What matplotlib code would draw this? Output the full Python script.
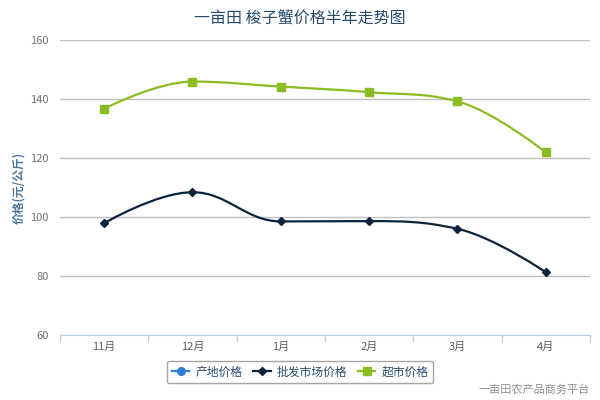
import numpy as np
import matplotlib.pyplot as plt
from matplotlib.path import Path
from matplotlib.patches import PathPatch
from matplotlib.lines import Line2D

plt.rcParams['font.family'] = ['Noto Sans CJK SC', 'DejaVu Sans']

months = ["11月", "12月", "1月", "2月", "3月", "4月"]
origin_price = []  # 产地价格: no data
wholesale_price = [97.9, 108.4, 98.5, 98.6, 96.0, 81.3]
market_price = [136.7, 145.9, 144.2, 142.3, 139.2, 121.9]


def spline_path(xs, ys, smoothing=1.5):
    # highcharts-like spline through the points
    n = len(xs)
    left = [None] * n
    right = [None] * n
    for i in range(1, n - 1):
        x, y = xs[i], ys[i]
        lx, ly = xs[i - 1], ys[i - 1]
        nx, ny = xs[i + 1], ys[i + 1]
        d = smoothing + 1
        lcx = (smoothing * x + lx) / d
        lcy = (smoothing * y + ly) / d
        rcx = (smoothing * x + nx) / d
        rcy = (smoothing * y + ny) / d
        corr = (rcy - lcy) * (rcx - x) / (rcx - lcx) + y - rcy
        lcy += corr
        rcy += corr
        if lcy > ly and lcy > y:
            lcy = max(ly, y)
            rcy = 2 * y - lcy
        elif lcy < ly and lcy < y:
            lcy = min(ly, y)
            rcy = 2 * y - lcy
        if rcy > ny and rcy > y:
            rcy = max(ny, y)
            lcy = 2 * y - rcy
        elif rcy < ny and rcy < y:
            rcy = min(ny, y)
            lcy = 2 * y - rcy
        left[i] = (lcx, lcy)
        right[i] = (rcx, rcy)
    verts = [(xs[0], ys[0])]
    codes = [Path.MOVETO]
    for i in range(1, n):
        c1 = right[i - 1] if right[i - 1] else (xs[i - 1], ys[i - 1])
        c2 = left[i] if left[i] else (xs[i], ys[i])
        verts += [c1, c2, (xs[i], ys[i])]
        codes += [Path.CURVE4] * 3
    return Path(verts, codes)


fig = plt.figure(figsize=(6, 4), dpi=100)
ax = fig.add_axes([0.1, 0.1625, 0.8833, 0.7375])

x = np.arange(len(months))
series = [
    (wholesale_price, "#0d233a", "D", 4.2, "批发市场价格"),
    (market_price, "#8bbc21", "s", 6, "超市价格"),
]
for vals, col, mk, ms, name in series:
    p = spline_path(list(x), vals)
    ax.add_patch(PathPatch(p, facecolor="none", edgecolor=col, lw=1.6, zorder=3))
    ax.plot(x, vals, ls="none", marker=mk, ms=ms, color=col, zorder=4)

ax.set_xlim(-0.5, len(months) - 0.5)
ax.set_ylim(60, 160)
ax.set_yticks([60, 80, 100, 120, 140, 160])
ax.yaxis.grid(True, color="#c0c0c0", lw=1)
ax.set_axisbelow(True)
for s in ["top", "right", "left"]:
    ax.spines[s].set_visible(False)
ax.spines["bottom"].set_color("#c0d0e0")
ax.tick_params(axis="y", length=0, labelsize=8, labelcolor="#707070", pad=8)

ax.set_xticks(x)
ax.set_xticklabels(months)
ax.set_xticks(np.arange(-0.5, len(months)), minor=True)
ax.tick_params(axis="x", which="major", length=0, labelsize=8, labelcolor="#606060", pad=5)
ax.tick_params(axis="x", which="minor", length=5, color="#c0d0e0", width=1)

ax.set_ylabel("价格(元/公斤)", fontsize=8.5, color="#4d759e", fontweight="bold", labelpad=4)
fig.text(0.5, 0.952, "一亩田 梭子蟹价格半年走势图", ha="center", va="center",
         fontsize=11.5, color="#274b6d")

handles = [
    Line2D([], [], color="#2f7ed8", marker="o", ms=5.5, lw=1.6),
    Line2D([], [], color="#0d233a", marker="D", ms=4, lw=1.6),
    Line2D([], [], color="#8bbc21", marker="s", ms=5.5, lw=1.6),
]
leg = fig.legend(handles, ["产地价格", "批发市场价格", "超市价格"], loc="center",
                 bbox_to_anchor=(0.5, 0.07), ncol=3, fontsize=8.5, frameon=True,
                 handlelength=1.5, handletextpad=0.5, columnspacing=0.9,
                 borderpad=0.4, borderaxespad=0, fancybox=True)
leg.get_frame().set_edgecolor("#909090")
leg.get_frame().set_linewidth(1)
for t in leg.get_texts():
    t.set_color("#274b6d")

fig.text(0.983, 0.025, "一亩田农产品商务平台", ha="right", va="center",
         fontsize=8, color="#909090")

fig.savefig("out.png", dpi=100)
